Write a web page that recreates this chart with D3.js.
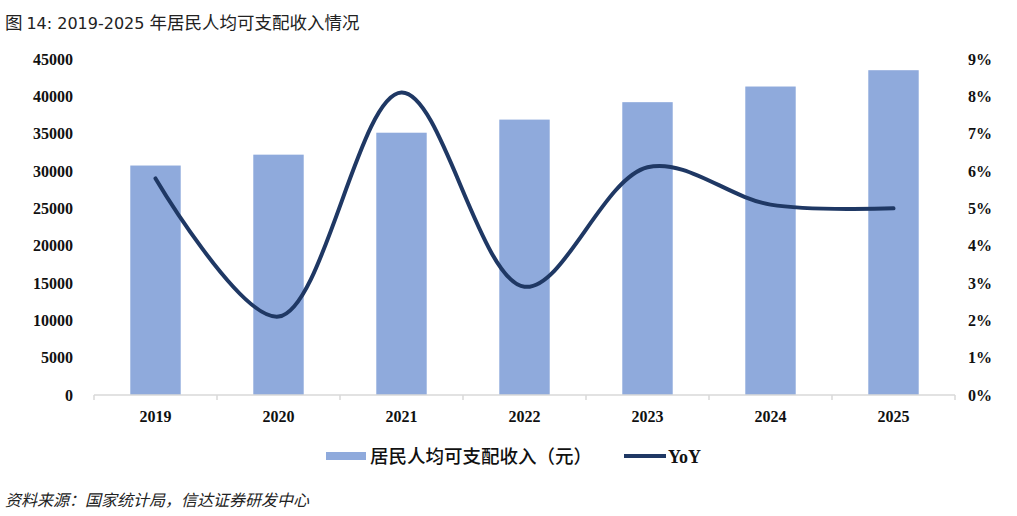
<!DOCTYPE html>
<html>
<head>
<meta charset="utf-8">
<script src="https://cdn.jsdelivr.net/npm/d3@7/dist/d3.min.js"></script>
<style>
  body { margin: 0; background: #fff; }
  .tick-label { font-family: 'Liberation Serif', 'Times New Roman', serif; font-weight: bold; font-size: 16px; fill: #111; }
  .title { font-family: 'Noto Sans CJK SC', sans-serif; font-size: 17.5px; fill: #222; }
  .title-num { font-family: 'DejaVu Sans', 'Noto Sans', sans-serif; font-size: 16px; }
  .legend { font-family: 'Noto Sans CJK SC', serif; font-weight: 500; font-size: 18.5px; fill: #111; }
  .legend-yoy { font-family: 'Liberation Serif', serif; font-weight: bold; font-size: 18px; fill: #111; }
  .source { font-family: 'Noto Sans CJK SC', sans-serif; font-style: italic; font-size: 16px; fill: #222; }
</style>
</head>
<body>
<svg width="1017" height="516"></svg>
<script>
// data
const years = ['2019', '2020', '2021', '2022', '2023', '2024', '2025'];
const income = [30733, 32189, 35128, 36883, 39218, 41314, 43500];
const yoy = [0.058, 0.021, 0.081, 0.029, 0.061, 0.051, 0.050];
const leftTicks = [0, 5000, 10000, 15000, 20000, 25000, 30000, 35000, 40000, 45000];
const rightTicks = [0, 0.01, 0.02, 0.03, 0.04, 0.05, 0.06, 0.07, 0.08, 0.09];

const svg = d3.select('svg');
const barColor = '#8faadc';
const lineColor = '#1f3864';

const margin = {top: 59, right: 62, bottom: 121, left: 94};
const width = +svg.attr('width');
const height = +svg.attr('height');
const innerWidth = width - margin.left - margin.right;
const innerHeight = height - margin.top - margin.bottom;

const g = svg.append('g')
  .attr('transform', `translate(${margin.left},${margin.top})`);

const xScale = d3.scaleBand()
  .domain(years)
  .range([0, innerWidth])
  .paddingInner(0.59)
  .paddingOuter(0.295);

const yLeft = d3.scaleLinear().domain([0, 45000]).range([innerHeight, 0]);
const yRight = d3.scaleLinear().domain([0, 0.09]).range([innerHeight, 0]);

// bars
g.selectAll('rect.bar').data(years)
  .enter().append('rect')
    .attr('class', 'bar')
    .attr('x', d => xScale(d))
    .attr('width', xScale.bandwidth())
    .attr('y', (d, i) => yLeft(income[i]))
    .attr('height', (d, i) => innerHeight - yLeft(income[i]))
    .attr('fill', barColor);

const styleTicks = sel => {
  sel.attr('font-size', null).attr('font-family', null);
  sel.select('.domain').remove();
  sel.selectAll('text').attr('class', 'tick-label').attr('fill', null);
};

// x axis
const xAxis = d3.axisBottom(xScale).tickSize(0).tickPadding(16);
const xAxisG = g.append('g')
  .attr('transform', `translate(0,${innerHeight})`)
  .call(xAxis)
  .call(styleTicks);
xAxisG.append('line')
  .attr('x1', 0).attr('x2', innerWidth)
  .attr('stroke', '#d9d9d9').attr('stroke-width', 1.5);
const step = xScale.step();
xAxisG.selectAll('line.sep').data(d3.range(years.length + 1))
  .enter().append('line')
    .attr('x1', i => i * step).attr('x2', i => i * step)
    .attr('y1', 0).attr('y2', 5)
    .attr('stroke', '#d9d9d9').attr('stroke-width', 1.5);

// left axis
const yAxisL = d3.axisLeft(yLeft).tickValues(leftTicks).tickSize(0).tickPadding(21).tickFormat(d3.format('d'));
g.append('g').call(yAxisL).call(styleTicks);

// right axis
const yAxisR = d3.axisRight(yRight).tickValues(rightTicks).tickSize(0).tickPadding(13).tickFormat(d3.format('.0%'));
g.append('g')
  .attr('transform', `translate(${innerWidth},0)`)
  .call(yAxisR)
  .call(styleTicks);

// yoy line
const lineGenerator = d3.line()
  .x((d, i) => xScale(years[i]) + xScale.bandwidth() / 2)
  .y(d => yRight(d))
  .curve(d3.curveCatmullRom.alpha(0.5));

g.append('path')
  .attr('d', lineGenerator(yoy))
  .attr('fill', 'none')
  .attr('stroke', lineColor)
  .attr('stroke-width', 4)
  .attr('stroke-linecap', 'round');

// title
const title = svg.append('text').attr('class', 'title').attr('x', 5).attr('y', 29);
title.append('tspan').text('图 ');
title.append('tspan').attr('class', 'title-num').text('14:  2019-2025 ');
title.append('tspan').text('年居民人均可支配收入情况');

// legend
const legend = svg.append('g').attr('transform', 'translate(326,456)');
legend.append('rect').attr('x', 0).attr('y', -4).attr('width', 40).attr('height', 8).attr('fill', barColor);
legend.append('text').attr('class', 'legend').attr('x', 44).attr('y', 7).text('居民人均可支配收入（元）');
legend.append('line').attr('x1', 298).attr('x2', 340).attr('y1', 0).attr('y2', 0)
  .attr('stroke', lineColor).attr('stroke-width', 4);
legend.append('text').attr('class', 'legend-yoy').attr('x', 342).attr('y', 7).text('YoY');

// source
svg.append('text').attr('class', 'source').attr('x', 5).attr('y', 506)
  .text('资料来源：国家统计局，信达证券研发中心');
</script>
</body>
</html>
